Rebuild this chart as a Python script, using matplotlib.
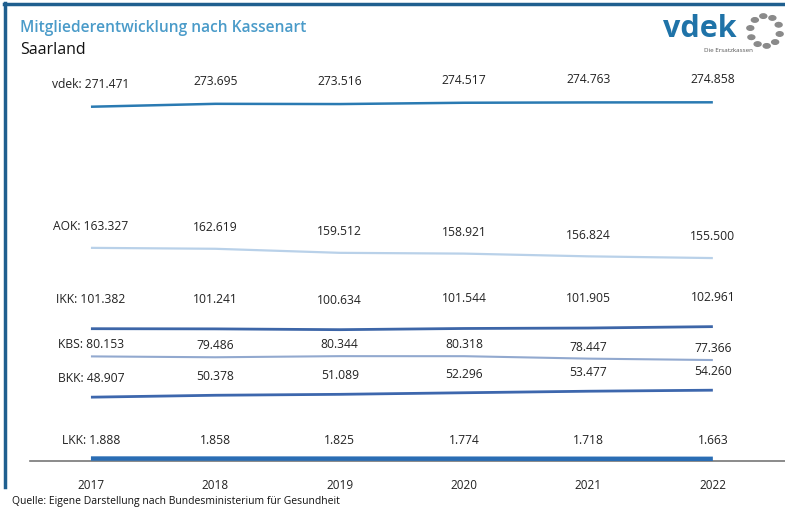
import matplotlib
matplotlib.use("Agg")
import matplotlib.pyplot as plt
import numpy as np
from matplotlib.patches import Ellipse
from matplotlib.lines import Line2D

plt.rcParams['font.family'] = ['Open Sans', 'DejaVu Sans']

years = [2017, 2018, 2019, 2020, 2021, 2022]
kassen = ["vdek", "AOK", "IKK", "KBS", "BKK", "LKK"]
vdek = [271471, 273695, 273516, 274517, 274763, 274858]
aok = [163327, 162619, 159512, 158921, 156824, 155500]
ikk = [101382, 101241, 100634, 101544, 101905, 102961]
kbs = [80153, 79486, 80344, 80318, 78447, 77366]
bkk = [48907, 50378, 51089, 52296, 53477, 54260]
lkk = [1888, 1858, 1825, 1774, 1718, 1663]
series = [vdek, aok, ikk, kbs, bkk, lkk]

colors = ["#2a7ab2", "#b9d1e9", "#3d66a8", "#92a9cf", "#3d67ad", "#2a6db4"]
widths = [1.8, 1.6, 2.0, 1.5, 2.0, 3.2]
label_offsets = [17, 16, 22, 9, 14, 14]  # points above line (text centre)

def fmt(v):
    return f"{v:,}".replace(",", ".")

fig = plt.figure(figsize=(7.85, 5.10), dpi=100)
W, H = 785, 510

ax_left, ax_right = 30, 785
ax_bottom, ax_top = 462, 70.5
ax = fig.add_axes([ax_left / W, 1 - ax_bottom / H, (ax_right - ax_left) / W, (ax_bottom - ax_top) / H])
ax.set_xlim(2016.51, 2022.58)
ax.set_ylim(0, 300000)

for name, vals, c, lw, off in zip(kassen, series, colors, widths, label_offsets):
    ax.plot(years, vals, color=c, lw=lw, solid_capstyle='butt', zorder=3)
    for i, (x, v) in enumerate(zip(years, vals)):
        txt = f"{name}: {fmt(v)}" if i == 0 else fmt(v)
        ax.annotate(txt, (x, v), xytext=(0, off), textcoords='offset points',
                    ha='center', va='center', fontsize=8.7, color='#222222')

for s in ['top', 'right', 'left']:
    ax.spines[s].set_visible(False)
ax.spines['bottom'].set_color('#777777')
ax.spines['bottom'].set_linewidth(1.2)
ax.set_yticks([])
ax.set_xticks(years)
ax.set_xticklabels([str(y) for y in years], fontsize=8.5, color='#222222')
ax.tick_params(axis='x', length=0, pad=12)

# frame lines (top and left)
fig.add_artist(Line2D([4 / W, 785 / W], [1 - 4.5 / H, 1 - 4.5 / H], color='#1f5f8f', lw=2.5))
fig.add_artist(Line2D([4.5 / W, 4.5 / W], [1 - 4 / H, 1 - 488 / H], color='#1f5f8f', lw=2.5))

# titles
fig.text(20 / W, 1 - 28 / H, "Mitgliederentwicklung nach Kassenart", fontsize=11.2,
         fontweight='semibold', color='#4a9bc9', va='center', ha='left')
fig.text(20 / W, 1 - 50 / H, "Saarland", fontsize=11.5, color='#111111', va='center', ha='left')
fig.text(12 / W, 1 - 502 / H, "Quelle: Eigene Darstellung nach Bundesministerium für Gesundheit",
         fontsize=7.5, color='#111111', va='center', ha='left')

# logo
fig.text(700 / W, 1 - 29 / H, "vdek", fontsize=22, fontweight='bold', color='#1f73a8',
         va='center', ha='center')
fig.text(728 / W, 1 - 50 / H, "Die Ersatzkassen", fontsize=4.5, color='#555555',
         va='center', ha='center')
cx, cy, r = 765, 32, 15
for k in range(10):
    a = 2 * np.pi * k / 10 + 0.2
    px, py = cx + r * np.cos(a), cy + r * np.sin(a)
    e = Ellipse((px / W, 1 - py / H), 7 / W, 4.5 / H, angle=-np.degrees(a) + 90,
                transform=fig.transFigure, color='#8a8a8a')
    fig.add_artist(e)

fig.savefig("out.png", dpi=100)
